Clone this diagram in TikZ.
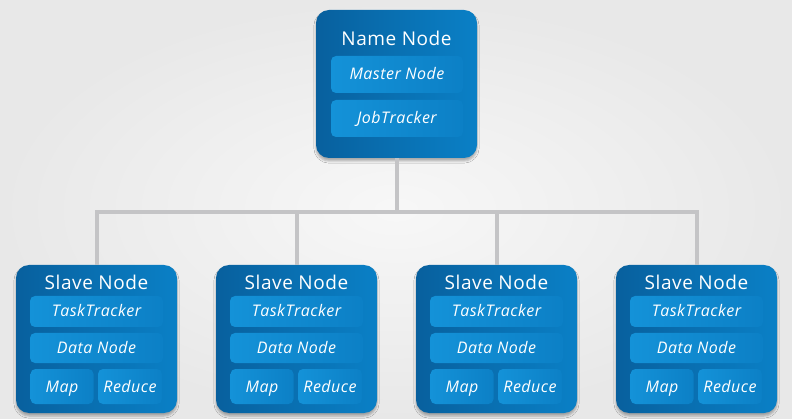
\documentclass[tikz,border=0pt]{standalone}
\usepackage{fontspec}
\setmainfont{Open Sans}
\newfontfamily\boxfont[LetterSpace=3]{Open Sans}
\usetikzlibrary{shadows.blur}
\definecolor{boxdark}{RGB}{8,96,158}
\definecolor{boxlight}{RGB}{10,128,198}
\definecolor{innerdark}{RGB}{12,128,198}
\definecolor{innerlight}{RGB}{20,146,216}
\definecolor{wiregray}{RGB}{196,196,198}
\tikzset{
    outerbox/.style={rounded corners=13pt, minimum width=161pt, minimum height=148pt,
                     left color=boxdark, right color=boxlight,
                     blur shadow={shadow xshift=0pt, shadow yshift=-3pt, shadow opacity=30}},
    innerbox/.style={rounded corners=5pt, inner sep=0pt, text=white,
                     text height=14pt, text depth=3pt,
                     left color=innerlight, right color=innerdark,
                     font=\boxfont\fontsize{16}{19}\selectfont\itshape},
    boxtitle/.style={text=white, font=\boxfont\fontsize{19}{22}\selectfont},
    wire/.style={draw=wiregray, line width=4pt},
}

\begin{document}
\begin{tikzpicture}[x=1pt,y=-1pt]
% background
\fill[inner color=black!3, outer color=black!9] (0,0) rectangle (792,419);
\useasboundingbox (0,0) rectangle (792,419);

% name node
\node[outerbox] (name) at (396.5,84) {};
\node[boxtitle] (nametitle) at (396.5,38) {Name Node};
\node[innerbox, minimum width=132pt, minimum height=37pt] (master) at (397,74.5) {Master Node};
\node[innerbox, minimum width=132pt, minimum height=37pt] (jobtracker) at (397,118.5) {JobTracker};

% slave nodes
\foreach \i/\x in {1/96.5,2/296.5,3/496.5,4/696.5}{
    \node[outerbox] (slave\i) at (\x,339) {};
    \node[boxtitle] (slavetitle\i) at (\x,282) {Slave Node};
    \node[innerbox, minimum width=133pt, minimum height=31pt] (task\i) at (\x,311.5) {TaskTracker};
    \node[innerbox, minimum width=133pt, minimum height=30pt] (data\i) at (\x,348) {Data Node};
    \node[innerbox, minimum width=63pt, minimum height=35pt] (map\i) at ({\x-34.5},386.5) {Map};
    \node[innerbox, minimum width=64pt, minimum height=35pt] (reduce\i) at ({\x+33.5},386.5) {Reduce};
}

% connectors
\coordinate (bus) at (396.5,212);
\draw[wire] (name.south) -- (bus);
\foreach \i in {1,...,4}
\draw[wire] (slave\i.north) |- (bus);
\end{tikzpicture}
\end{document}
